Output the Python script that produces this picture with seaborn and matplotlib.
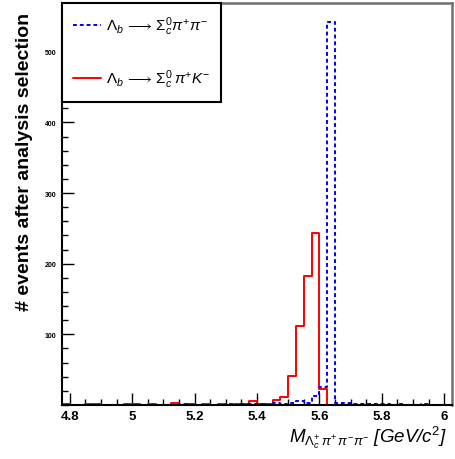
import numpy as np
import pandas as pd
import matplotlib
matplotlib.use("Agg")
import matplotlib.pyplot as plt
from matplotlib.lines import Line2D
from matplotlib.ticker import MultipleLocator, FixedLocator
import seaborn as sns

# Histogram binning: 50 bins of 25 MeV between 4.775 and 6.025 GeV/c^2
bin_edges = [round(4.775 + 0.025 * i, 3) for i in range(51)]
bin_centers = [round(0.5 * (a + b), 4) for a, b in zip(bin_edges[:-1], bin_edges[1:])]

# Selected events per bin, Lambda_b -> Sigma_c^0 pi+ pi-
counts_pipi = [0, 0, 0, 0, 0, 0, 0, 0, 0, 0,
               0, 0, 0, 0, 0, 1, 0, 0, 0, 0,
               0, 1, 0, 1, 1, 1, 0, 3, 2, 3,
               5, 3, 13, 25, 542, 3, 3, 2, 1, 1,
               1, 1, 0, 1, 0, 0, 1, 0, 0, 0]

# Selected events per bin, Lambda_b -> Sigma_c^0 pi+ K-
counts_pik = [1, 0, 0, 1, 1, 0, 0, 0, 2, 2,
              0, 1, 0, 0, 3, 0, 1, 0, 1, 0,
              1, 0, 1, 1, 5, 1, 1, 7, 11, 41,
              112, 182, 243, 23, 0, 0, 0, 0, 0, 0,
              0, 0, 0, 0, 0, 0, 0, 0, 0, 0]

x_ticks = [4.8, 5.0, 5.2, 5.4, 5.6, 5.8, 6.0]
x_tick_labels = ["4.8", "5", "5.2", "5.4", "5.6", "5.8", "6"]
y_ticks = [100, 200, 300, 400, 500]

label_pipi = r"$\Lambda_{b}\,\longrightarrow\,\Sigma_{c}^{0}\pi^{+}\pi^{-}$"
label_pik = r"$\Lambda_{b}\,\longrightarrow\,\Sigma_{c}^{0}\,\pi^{+}K^{-}$"

df_pik = pd.DataFrame({"mass": bin_centers, "n": counts_pik})
df_pipi = pd.DataFrame({"mass": bin_centers, "n": counts_pipi})

sns.set_style("ticks")
plt.rcParams["font.family"] = ["Liberation Sans", "DejaVu Sans"]
plt.rcParams["mathtext.fontset"] = "custom"
plt.rcParams["mathtext.rm"] = "Liberation Sans"
plt.rcParams["mathtext.it"] = "Liberation Sans:italic"
plt.rcParams["mathtext.bf"] = "Liberation Sans:bold"
for key in ("text.color", "axes.labelcolor", "xtick.color", "ytick.color"):
    plt.rcParams[key] = "black"

fig = plt.figure(figsize=(4.55, 4.6), dpi=100)
ax = fig.add_axes([62 / 455, 1 - 406 / 460, 390 / 455, 402 / 460])

red = "#ff0000"
blue = "#0000ff"
dash = (0, (2.0, 1.5))

sns.histplot(data=df_pik, x="mass", weights="n", bins=bin_edges,
             element="step", fill=False, color=red, linewidth=1.4, ax=ax)
sns.histplot(data=df_pipi, x="mass", weights="n", bins=bin_edges,
             element="step", fill=False, color=blue, linewidth=1.4,
             linestyle=dash, ax=ax)

ax.set_xlim(bin_edges[0], bin_edges[-1])
ax.set_ylim(0, 569)

ax.xaxis.set_major_locator(FixedLocator(x_ticks))
ax.set_xticklabels(x_tick_labels)
ax.xaxis.set_minor_locator(MultipleLocator(0.05))
ax.yaxis.set_major_locator(FixedLocator(y_ticks))
ax.yaxis.set_minor_locator(MultipleLocator(20))

ax.tick_params(axis="both", which="both", direction="in", top=False, right=False,
               color="black", width=1.0)
ax.tick_params(axis="both", which="major", length=8.6)
ax.tick_params(axis="both", which="minor", length=4.3)
ax.tick_params(axis="x", which="major", labelsize=9.5, pad=3.5)
ax.tick_params(axis="y", which="major", labelsize=5, pad=4)
for lab in ax.get_xticklabels() + ax.get_yticklabels():
    lab.set_fontweight("bold")

for side in ("left", "bottom"):
    ax.spines[side].set_color("black")
    ax.spines[side].set_linewidth(1.5)
for side in ("top", "right"):
    ax.spines[side].set_color("#707070")
    ax.spines[side].set_linewidth(1.8)

ax.set_ylabel("# events after analysis selection", fontsize=14, fontweight="bold")
ax.yaxis.label.set_horizontalalignment("right")
ax.yaxis.set_label_coords(-0.074, 0.978)

ax.set_xlabel(r"$M_{\Lambda_{c}^{+}\,\pi^{+}\,\pi^{-}\pi^{-}}$ [GeV/c$^{2}$]",
              fontsize=13.5, fontstyle="italic")
ax.xaxis.label.set_horizontalalignment("right")
ax.xaxis.label.set_verticalalignment("top")
ax.xaxis.set_label_coords(0.987, -0.045)

handles = [
    Line2D([], [], color=blue, linewidth=1.4, linestyle=dash),
    Line2D([], [], color=red, linewidth=1.4),
]
leg = ax.legend(handles, [label_pipi, label_pik], loc="upper left",
                bbox_to_anchor=(0.0, 1.0), borderaxespad=0.0, frameon=True,
                fancybox=False, framealpha=1.0, edgecolor="black",
                fontsize=11, handlelength=1.8, handletextpad=0.3,
                labelspacing=2.0, borderpad=0.75)
leg.get_frame().set_linewidth(1.5)

fig.savefig("out.png", dpi=100, facecolor="white")
